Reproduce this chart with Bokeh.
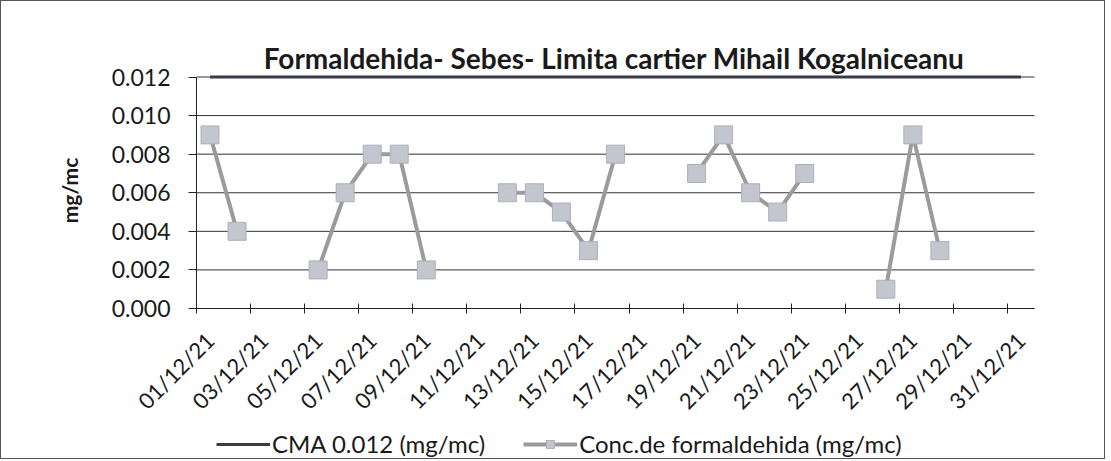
import math
from bokeh.plotting import figure
from bokeh.models import (Range1d, FixedTicker, LinearAxis, Legend, LegendItem,
                          NumeralTickFormatter, Label)
from bokeh.embed import file_html
from bokeh.resources import INLINE

nan = float("nan")

# ---- data ----
days = list(range(1, 32))
conc = [0.009, 0.004, nan, nan, 0.002, 0.006, 0.008, 0.008, 0.002, nan,
        nan, 0.006, 0.006, 0.005, 0.003, 0.008, nan, nan, 0.007, 0.009,
        0.006, 0.005, 0.007, nan, nan, 0.001, 0.009, 0.003, nan, nan, nan]
cma = [0.012] * 31
label_days = [1, 3, 5, 7, 9, 11, 13, 15, 17, 19, 21, 23, 25, 27, 29, 31]
label_text = ["01/12/21", "03/12/21", "05/12/21", "07/12/21", "09/12/21",
              "11/12/21", "13/12/21", "15/12/21", "17/12/21", "19/12/21",
              "21/12/21", "23/12/21", "25/12/21", "27/12/21", "29/12/21",
              "31/12/21"]
y_ticks = [0.000, 0.002, 0.004, 0.006, 0.008, 0.010, 0.012]
title_text = "Formaldehida- Sebes- Limita cartier Mihail  Kogalniceanu"
y_label = "mg/mc"
cma_label = "CMA 0.012 (mg/mc)"
conc_label = "Conc.de formaldehida (mg/mc)"

FONT = "Lato"
TXT = "#1a1a1a"

# ---- layout (page pixels) ----
# the frame covers almost the whole chart so that every text drawn in it
# (title, rotated date labels, legend) stays unclipped
X_LO, X_HI = 0.5, 31.5          # category axis extent (days)
AX_L, AX_R = 192.0, 1030.0      # page x of X_LO / X_HI
Y0_PX, YTOP_PX = 308.0, 76.5    # page y of 0 and of the top tick
FL, FR, FT, FB = 40, 1100, 22, 458
xs = (X_HI - X_LO) / (AX_R - AX_L)
ys = y_ticks[-1] / (Y0_PX - YTOP_PX)


def px_x(px):
    return X_LO + (px - AX_L) * xs


def px_y(py):
    return (Y0_PX - py) * ys


p = figure(frame_width=FR - FL, frame_height=FB - FT,
           min_border_left=FL + 3, min_border_right=0,
           min_border_top=FT - 1, min_border_bottom=0,
           x_range=Range1d(px_x(FL), px_x(FR)),
           y_range=Range1d(px_y(FB), px_y(FT)),
           output_backend="svg", toolbar_location=None,
           styles={"border": "1px solid #555555"})

p.outline_line_color = None
p.background_fill_color = "white"
p.border_fill_color = "white"
p.xgrid.grid_line_color = None
p.ygrid.grid_line_color = None

# title and y-axis title
p.add_layout(Label(x=px_x(613), y=px_y(57), text=title_text,
                   text_align="center", text_baseline="alphabetic",
                   text_font=FONT, text_font_size="28px", text_font_style="bold",
                   text_color=TXT))
p.add_layout(Label(x=px_x(65), y=px_y(190), text=y_label, angle=math.pi / 2,
                   text_align="center", text_baseline="middle",
                   text_font=FONT, text_font_size="21px", text_font_style="bold",
                   text_color=TXT))

# horizontal grid lines over the category extent
p.segment(x0=X_LO, x1=X_HI, y0=y_ticks, y1=y_ticks, line_color="#333333", line_width=1)

# y axis at the start of the category axis
p.yaxis.fixed_location = X_LO
p.yaxis.bounds = (y_ticks[0], y_ticks[-1])
p.yaxis.ticker = FixedTicker(ticks=y_ticks)
p.yaxis.formatter = NumeralTickFormatter(format="0.000")
p.yaxis.major_label_text_font = FONT
p.yaxis.major_label_text_font_size = "23px"
p.yaxis.major_label_text_color = TXT
p.yaxis.axis_line_color = "#222222"
p.yaxis.major_tick_line_color = "#222222"
p.yaxis.major_tick_out = 8
p.yaxis.major_tick_in = 0
p.yaxis.minor_tick_line_color = None
p.yaxis.major_label_standoff = 18

# x axis: tick marks between category pairs, drawn at value 0
p.xaxis.fixed_location = 0
p.xaxis.bounds = (X_LO, X_HI)
p.xaxis.ticker = FixedTicker(ticks=[d - 0.5 for d in label_days])
p.xaxis.major_label_text_font_size = "0px"
p.xaxis.major_label_text_alpha = 0
p.xaxis.major_label_standoff = 0
p.xaxis.major_tick_in = 5
p.xaxis.major_tick_out = 5
p.xaxis.minor_tick_line_color = None
p.xaxis.axis_line_color = "#222222"
p.xaxis.major_tick_line_color = "#222222"

# x axis: date labels at category centers
xb = LinearAxis(ticker=FixedTicker(ticks=label_days), fixed_location=0,
                major_label_overrides={d: t for d, t in zip(label_days, label_text)},
                major_label_orientation=math.pi / 4,
                axis_line_color=None, major_tick_line_color=None,
                minor_tick_line_color=None, major_label_standoff=22,
                major_label_text_font=FONT, major_label_text_font_size="22px",
                major_label_text_color=TXT)
p.add_layout(xb, "below")

# series
cma_r = p.line(days, cma, line_color="#3b3b48", line_width=3)
conc_line = p.line(days, conc, line_color="#9b9b9b", line_width=4)
conc_pts = p.scatter(days, conc, marker="square", size=18,
                     fill_color="#c3c5cf", line_color="#aeb0ba", line_width=1)

legend = Legend(items=[LegendItem(label=cma_label, renderers=[cma_r]),
                       LegendItem(label=conc_label, renderers=[conc_line, conc_pts])],
                orientation="horizontal", location=(212 - FL, 0),
                padding=0, margin=0, spacing=38, label_standoff=2,
                glyph_width=54, glyph_height=20,
                border_line_color=None, background_fill_alpha=0,
                label_text_font=FONT, label_text_font_size="24px",
                label_text_color=TXT)
p.add_layout(legend, "center")

open("out.html", "w").write(file_html(p, INLINE))
